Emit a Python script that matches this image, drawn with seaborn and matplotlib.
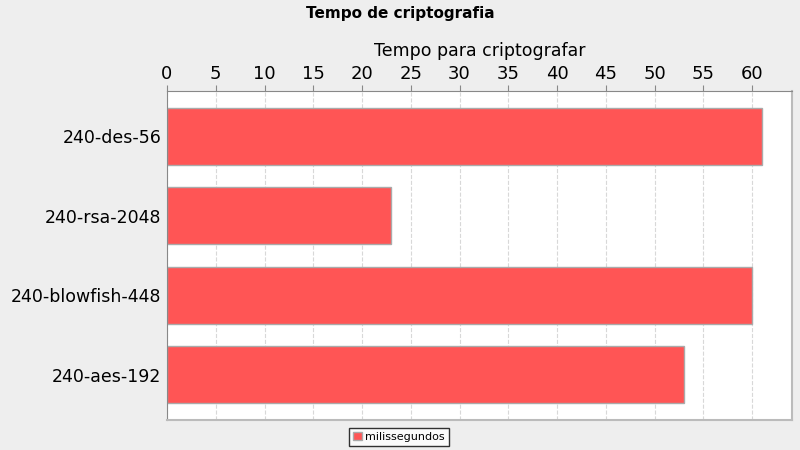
import pandas as pd
import matplotlib.pyplot as plt
import seaborn as sns

# Encryption time per algorithm (ms)
algoritmos = ['240-des-56', '240-rsa-2048', '240-blowfish-448', '240-aes-192']
tempos = [61, 23, 60, 53]
serie = 'milissegundos'

df = pd.DataFrame({'algoritmo': algoritmos, 'tempo': tempos, 'serie': serie})

sns.set_style("white")
plt.rcParams['font.family'] = ['DejaVu Sans']
plt.rcParams['text.color'] = 'black'
plt.rcParams['axes.labelcolor'] = 'black'
plt.rcParams['xtick.color'] = 'black'
plt.rcParams['ytick.color'] = 'black'

fig = plt.figure(figsize=(8, 4.5), dpi=100, facecolor='#eeeeee')
ax = fig.add_axes([0.20875, 0.0667, 0.78125, 0.7311])
ax.set_facecolor('white')

sns.barplot(data=df, x='tempo', y='algoritmo', hue='serie', orient='h',
            palette=['#ff5555'], saturation=1, width=0.72, edgecolor='#aaaaaa',
            linewidth=1, ax=ax, legend=False)

ax.set_xlim(0, 64.1)
ax.set_ylim(3.57, -0.57)
ax.set_xticks(range(0, 65, 5))
ax.xaxis.tick_top()
ax.xaxis.set_label_position('top')
ax.set_xlabel('Tempo para criptografar', fontsize=12.5, labelpad=6)
ax.set_ylabel('')
ax.tick_params(axis='x', labelsize=13, length=4, color='#888888', pad=2,
               top=True, bottom=False)
ax.tick_params(axis='y', labelsize=12.5, length=0, pad=4, left=False)
ax.grid(axis='x', color='#d8d8d8', linestyle='--', linewidth=0.8)
ax.set_axisbelow(True)

for side in ['top', 'left']:
    ax.spines[side].set_color('#888888')
for side in ['right', 'bottom']:
    ax.spines[side].set_color('#bbbbbb')
    ax.spines[side].set_linewidth(1.5)

fig.text(0.5, 0.97, 'Tempo de criptografia', ha='center', va='center',
         fontsize=11, fontweight='bold')

handle = plt.Rectangle((0, 0), 1, 1, facecolor='#ff5555', edgecolor='#aaaaaa')
leg = fig.legend([handle], [serie], loc='center', bbox_to_anchor=(0.499, 0.029),
                 fontsize=8, frameon=True, fancybox=False, handlelength=0.8,
                 handleheight=0.8, handletextpad=0.3, borderpad=0.35,
                 borderaxespad=0)
leg.get_frame().set_edgecolor('black')
leg.get_frame().set_linewidth(1)

fig.savefig('out.png', dpi=100, facecolor=fig.get_facecolor())
